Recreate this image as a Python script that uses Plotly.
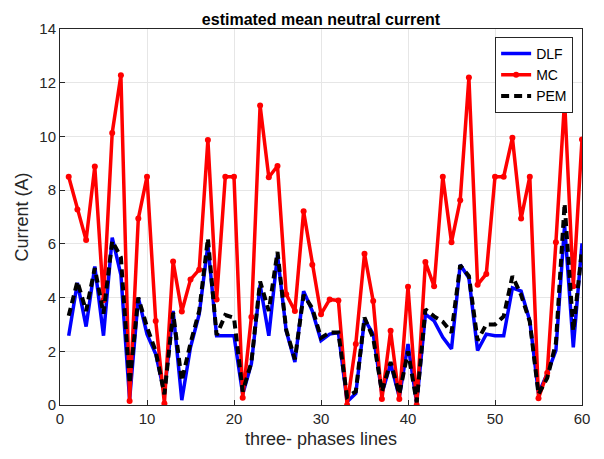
import plotly.graph_objects as go

lines = list(range(1, 61))

dlf = [2.58, 4.55, 2.92, 5.16, 2.58, 6.23, 4.85, 0.2, 4.0, 2.64,
       1.9, 0.43, 3.5, 0.18, 2.15, 3.38, 5.96, 2.58, 2.58, 2.58,
       0.4, 1.54, 4.48, 2.58, 5.59, 2.76, 1.6, 4.24, 3.5, 2.4,
       2.64, 2.7, 0.12, 0.43, 3.19, 2.64, 0.43, 1.54, 0.3, 2.27,
       0.06, 3.38, 3.13, 2.52, 2.09, 5.22, 4.73, 2.03, 2.64, 2.58,
       2.58, 4.36, 4.24, 3.13, 0.43, 1.17, 2.03, 6.7, 2.15, 6.02]

mc = [8.5, 7.28, 6.14, 8.88, 3.9, 10.13, 12.28, 0.15, 6.94, 8.5,
      3.13, 0.06, 5.34, 3.48, 4.67, 5.04, 9.87, 3.93, 8.5, 8.5,
      0.27, 3.28, 11.15, 8.48, 8.9, 4.12, 3.5, 7.21, 5.22, 3.38,
      3.93, 3.89, 0.0, 2.27, 5.63, 3.87, 0.22, 2.76, 0.22, 4.4,
      0.0, 5.32, 4.42, 8.5, 6.06, 7.62, 12.19, 4.48, 4.88, 8.5,
      8.5, 9.95, 6.94, 8.5, 0.25, 1.19, 6.06, 11.33, 4.42, 9.89]

pem = [3.32, 4.6, 3.5, 5.1, 3.4, 6.1, 5.5, 0.8, 4.0, 2.9,
       2.0, 0.4, 3.44, 0.9, 2.3, 3.5, 6.2, 2.6, 3.35, 3.25,
       0.5, 1.6, 4.6, 3.5, 5.7, 2.8, 1.7, 4.1, 3.6, 2.5,
       2.7, 2.7, 0.3, 0.5, 3.26, 2.5, 0.5, 1.6, 0.4, 2.0,
       0.1, 3.56, 3.3, 3.1, 2.7, 5.2, 4.8, 2.4, 3.0, 3.0,
       3.3, 4.8, 4.1, 3.1, 0.4, 1.0, 2.3, 7.5, 2.76, 5.8]

font_family = "Liberation Sans, Arial, sans-serif"

fig = go.Figure()
fig.add_trace(go.Scatter(x=lines, y=dlf, mode="lines", name="DLF",
                         line=dict(color="#0000FF", width=3.5)))
fig.add_trace(go.Scatter(x=lines, y=mc, mode="lines+markers", name="MC",
                         line=dict(color="#FF0000", width=3.5),
                         marker=dict(color="#FF0000", size=6)))
fig.add_trace(go.Scatter(x=lines, y=pem, mode="lines", name="PEM",
                         line=dict(color="#000000", width=4, dash="8px,5px")))

axis_common = dict(showgrid=True, gridcolor="#E6E6E6", gridwidth=1,
                   showline=True, linecolor="#262626", linewidth=1, mirror=True,
                   ticks="inside", ticklen=5, tickcolor="#262626",
                   tickfont=dict(size=15, color="#262626", family=font_family),
                   zeroline=False)

fig.update_layout(
    width=604, height=459,
    margin=dict(l=52, r=30, t=17, b=62),
    paper_bgcolor="white", plot_bgcolor="white",
    font=dict(family=font_family, color="#262626"),
    title=dict(text="<b>estimated mean neutral current</b>", x=0.5, xanchor="center",
               xref="paper", yref="paper", y=1, yanchor="bottom",
               pad=dict(b=4),
               font=dict(size=16, color="#000000", family=font_family)),
    xaxis=dict(range=[0, 60], dtick=10, tick0=0,
               title=dict(text="three- phases lines", standoff=6,
                          font=dict(size=18, color="#262626", family=font_family)),
               **axis_common),
    yaxis=dict(range=[0, 14], dtick=2, tick0=0,
               title=dict(text="Current (A)", standoff=6,
                          font=dict(size=18, color="#262626", family=font_family)),
               **axis_common),
    legend=dict(x=0.983, y=0.979, xanchor="right", yanchor="top",
                bgcolor="white", bordercolor="#262626", borderwidth=1,
                font=dict(size=14, color="#000000", family=font_family),
                tracegroupgap=0, itemwidth=30),
    showlegend=True,
)

fig.write_html("out.html")
